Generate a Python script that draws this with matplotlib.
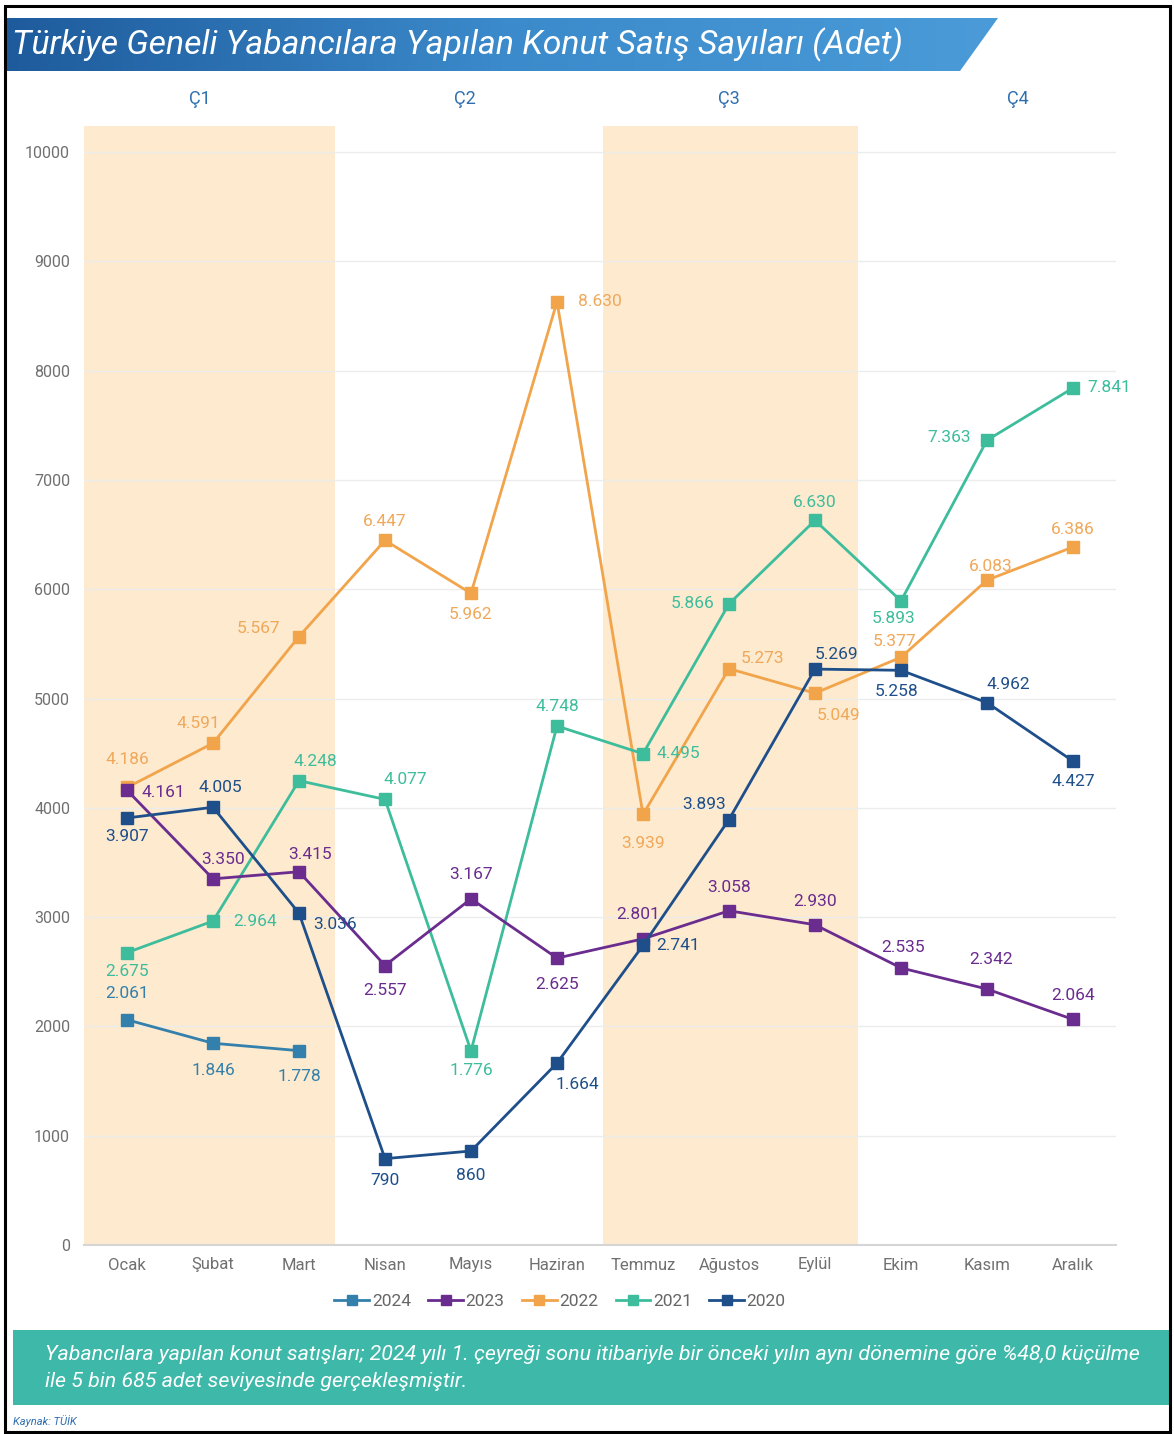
import matplotlib
matplotlib.use("Agg")
import matplotlib.pyplot as plt
from matplotlib.patches import Polygon, Rectangle
from matplotlib.lines import Line2D
from matplotlib.colors import LinearSegmentedColormap
import numpy as np

plt.rcParams['font.family'] = ['Roboto', 'DejaVu Sans']

months = ["Ocak", "Şubat", "Mart", "Nisan", "Mayıs", "Haziran", "Temmuz",
          "Ağustos", "Eylül", "Ekim", "Kasım", "Aralık"]
quarters = ["Ç1", "Ç2", "Ç3", "Ç4"]
years = ["2024", "2023", "2022", "2021", "2020"]

s2024 = [2061, 1846, 1778]
s2023 = [4161, 3350, 3415, 2557, 3167, 2625, 2801, 3058, 2930, 2535, 2342, 2064]
s2022 = [4186, 4591, 5567, 6447, 5962, 8630, 3939, 5273, 5049, 5377, 6083, 6386]
s2021 = [2675, 2964, 4248, 4077, 1776, 4748, 4495, 5866, 6630, 5893, 7363, 7841]
s2020 = [3907, 4005, 3036, 790, 860, 1664, 2741, 3893, 5269, 5258, 4962, 4427]

title = "Türkiye Geneli Yabancılara Yapılan Konut Satış Sayıları (Adet)"
note = ("Yabancılara yapılan konut satışları; 2024 yılı 1. çeyreği sonu itibariyle bir önceki yılın aynı dönemine göre %48,0 küçülme\n"
        "ile 5 bin 685 adet seviyesinde gerçekleşmiştir.")
source = "Kaynak: TÜİK"

colors = {"2024": "#3380AC", "2023": "#6A2C8E", "2022": "#F2A44B",
          "2021": "#3DBD9C", "2020": "#1E4F8A"}
label_colors = {"2024": "#3380AC", "2023": "#6A2C8E", "2022": "#F0A85A",
                "2021": "#3DBD9C", "2020": "#1E4F8A"}

# label offsets in pixels (dx, dy up)
offsets = {
    "2024": [(0, 26), (0, -27), (0, -26)],
    "2023": [(36, -2), (10, 19), (11, 17), (0, -25), (0, 24), (0, -26),
             (-5, 24), (0, 23), (0, 23), (2, 20), (4, 30), (0, 24)],
    "2022": [(0, 28), (-15, 20), (-40, 8), (0, 19), (0, -21), (43, 0),
             (0, -29), (34, 10), (23, -22), (-7, 16), (4, 14), (0, 18)],
    "2021": [(0, -19), (42, 0), (16, 19), (20, 20), (0, -20), (0, 20),
             (35, 0), (-36, 0), (0, 18), (-7, -18), (-38, 3), (36, 0)],
    "2020": [(0, -19), (7, 20), (36, -11), (0, -22), (0, -24), (20, -21),
             (35, 0), (-25, 15), (22, 15), (-4, -21), (21, 18), (0, -20)],
}

W, H = 1174, 1434
fig = plt.figure(figsize=(W / 100, H / 100), dpi=100)
fig.patch.set_facecolor("white")


def fx(x):
    return x / W


def fy(y):
    return 1 - y / H


# border
fig.patches.append(Rectangle((fx(5), fy(1432)), fx(1170) - fx(5), fy(6) - fy(1432),
                             transform=fig.transFigure, fill=False,
                             edgecolor="black", linewidth=2.2, zorder=10))

# title banner with gradient
bax = fig.add_axes([0, 0, 1, 1], zorder=5)
bax.set_xlim(0, W)
bax.set_ylim(H, 0)
bax.axis("off")
bax.patch.set_alpha(0)
poly = Polygon([(6, 18), (998, 18), (960, 71), (6, 71)], closed=True,
               facecolor="none", edgecolor="none")
bax.add_patch(poly)
grad = np.linspace(0, 1, 256).reshape(1, -1)
cmap = LinearSegmentedColormap.from_list("b", ["#1E5B9C", "#3B8ACB", "#4A9BD8"])
im = bax.imshow(grad, extent=(6, 998, 71, 18), aspect="auto", cmap=cmap, zorder=1)
im.set_clip_path(poly)
bax.text(12, 45, title, color="white", fontsize=24.3, style="italic",
         va="center", ha="left", zorder=3)

# note box
bax.add_patch(Rectangle((13, 1330), 1159, 75, facecolor="#3DB8A9",
                        edgecolor="none", zorder=1))
bax.text(45, 1368, note, color="white", fontsize=15.4, style="italic",
         va="center", ha="left", linespacing=1.5, zorder=3)
bax.text(13, 1421, source, color="#2F6FB0", fontsize=8, style="italic",
         va="center", ha="left", zorder=3)

# main axes
ax = fig.add_axes([fx(84), fy(1245), fx(1116) - fx(84), fy(126) - fy(1245)])
ax.set_xlim(-0.5, 11.5)
ax.set_ylim(0, 10238)
x = np.arange(len(months))
ax.axvspan(-0.5, 2.42, color="#FDEACF", zorder=0, lw=0)
ax.axvspan(5.54, 8.5, color="#FDEACF", zorder=0, lw=0)
ax.set_yticks(np.arange(0, 10001, 1000))
ax.set_yticklabels([str(v) for v in range(0, 10001, 1000)])
ax.grid(axis="y", color="#ECECEC", linewidth=1, zorder=0.5)
ax.set_axisbelow(True)
ax.set_xticks(x)
ax.set_xticklabels(months)
ax.tick_params(axis="both", length=0, colors="#707070", labelsize=12)
ax.tick_params(axis="y", pad=10, labelsize=11.5)
ax.tick_params(axis="x", pad=9)
for s in ["top", "right", "left"]:
    ax.spines[s].set_visible(False)
ax.spines["bottom"].set_color("#D5D5D5")
ax.spines["bottom"].set_linewidth(1.5)

series = {"2024": s2024, "2023": s2023, "2022": s2022, "2021": s2021, "2020": s2020}


def fmt(v):
    return f"{v:,}".replace(",", ".")


order = ["2022", "2021", "2023", "2024", "2020"]
for yr in order:
    vals = series[yr]
    xs = x[:len(vals)]
    ax.plot(xs, vals, color=colors[yr], lw=2, marker="s", markersize=8,
            zorder=3)
    for i, v in enumerate(vals):
        dx, dy = offsets[yr][i]
        ax.annotate(fmt(v), (xs[i], v), xytext=(dx * 0.72, dy * 0.72),
                    textcoords="offset points", ha="center", va="center",
                    fontsize=12.5, color=label_colors[yr], zorder=4)

# quarter labels
qpos = [0.85, 3.93, 7.0, 10.36]
for q, p in zip(quarters, qpos):
    ax.text(p, 10000 + (152 - 99) / 0.1093, q, ha="center", va="center",
            fontsize=13, color="#2F6FAE", clip_on=False)

# legend
handles = [Line2D([0], [0], color=colors[yr], lw=2, marker="s", markersize=7)
           for yr in years]
fig.legend(handles, years, loc="center", bbox_to_anchor=(fx(560), fy(1301)),
           ncol=5, frameon=False, fontsize=12.5, handlelength=2.0,
           handletextpad=0.15, columnspacing=1.0, labelcolor="#666666")

fig.savefig("out.png", dpi=100, facecolor="white")
